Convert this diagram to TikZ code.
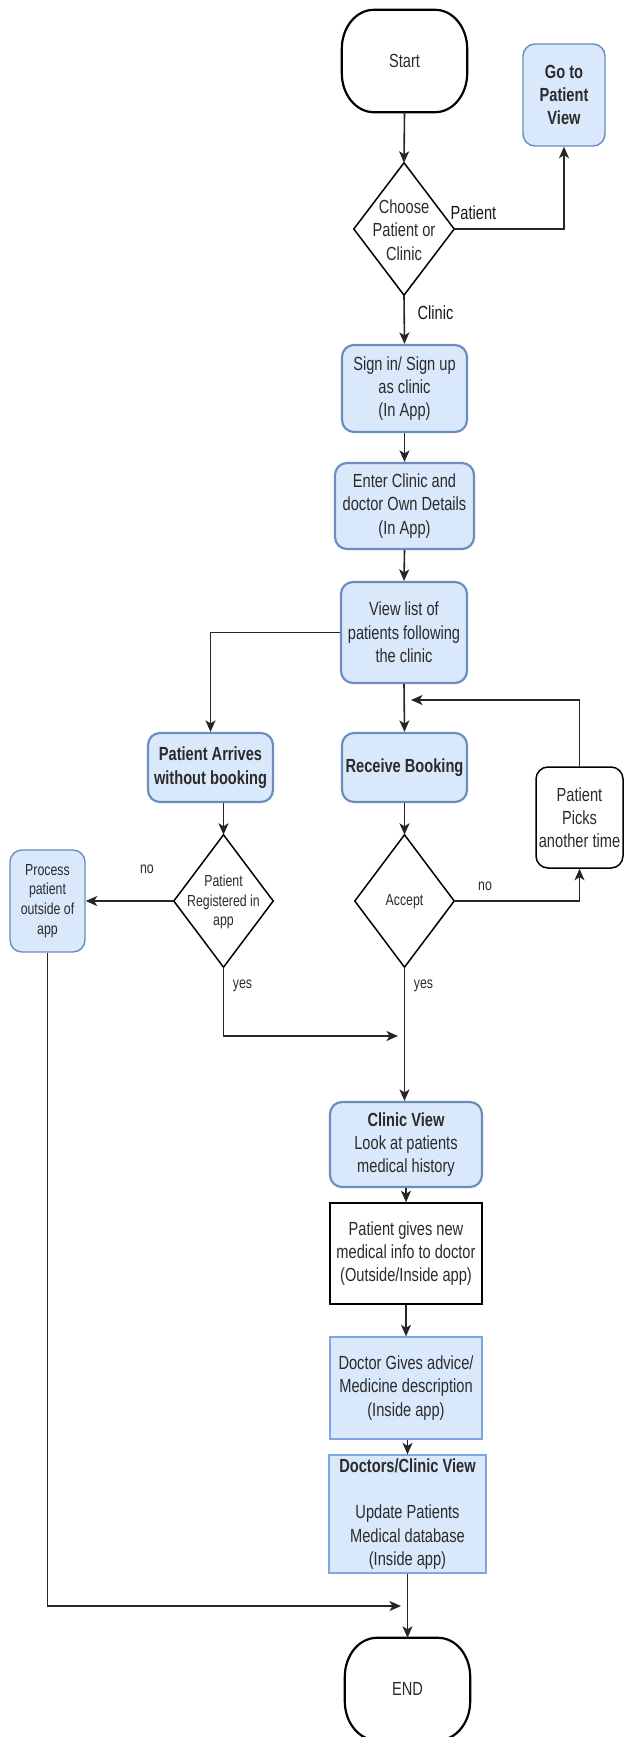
\documentclass[tikz,border=0pt]{standalone}
\usepackage{fontspec}
\setmainfont[FakeStretch=0.77]{Liberation Sans}
\usetikzlibrary{arrows.meta,calc}
\definecolor{fillblue}{HTML}{DAE8FC}
\definecolor{lineblue}{HTML}{6C8EBF}
\definecolor{lineblue2}{HTML}{7EA6E0}
\definecolor{txt}{HTML}{2B2B2B}
\newcommand\fnormal{\fontsize{19}{23.3}\selectfont}
\newcommand\fsmall{\fontsize{16}{19.8}\selectfont}
\tikzset{
  base/.style={inner sep=0pt, align=center, text=txt, font=\fnormal},
  smallbase/.style={base, font=\fsmall},
  bluebox/.style={base, draw=lineblue, fill=fillblue, line width=2.2pt, rounded corners=12pt},
  thinblue/.style={base, draw=lineblue, fill=fillblue, line width=1.4pt, rounded corners=12pt},
  sqblue/.style={base, draw=lineblue2, fill=fillblue, line width=1.3pt},
  whitebox/.style={base, draw=black, fill=white, line width=1.5pt},
  termline/.style={draw=black, line width=2.2pt},
  diamline/.style={draw=black, line width=1.5pt, fill=white},
  conn/.style={draw=black!85, line width=1.6pt, -{Stealth[length=11.5pt,width=10pt,inset=3pt]}},
  edgelabel/.style={inner sep=0pt, text=black!90, font=\fnormal},
  smalllabel/.style={inner sep=0pt, text=txt, font=\fsmall}
}
\newcommand\termpath[1]{%
  \draw[termline] ($(#1.north west)+(32,0)$) -- ($(#1.north east)+(-32,0)$)
    .. controls ($(#1.north east)+(-14.3,0)$) and ($(#1.north east)+(0,17.5)$) .. ($(#1.north east)+(0,39)$)
    -- ($(#1.south east)+(0,-39)$)
    .. controls ($(#1.south east)+(0,-17.5)$) and ($(#1.south east)+(-14.3,0)$) .. ($(#1.south east)+(-32,0)$)
    -- ($(#1.south west)+(32,0)$)
    .. controls ($(#1.south west)+(14.3,0)$) and ($(#1.south west)+(0,-17.5)$) .. ($(#1.south west)+(0,-39)$)
    -- ($(#1.north west)+(0,39)$)
    .. controls ($(#1.north west)+(0,17.5)$) and ($(#1.north west)+(14.3,0)$) .. ($(#1.north west)+(32,0)$)
    -- cycle;}
\newcommand\diapath[1]{\draw[diamline] (#1.north) -- (#1.east) -- (#1.south) -- (#1.west) -- cycle;}
\begin{document}
\begin{tikzpicture}[x=1pt,y=-1pt]
\useasboundingbox (0,0) rectangle (625,1737);

% terminals
\node[base, minimum width=125pt, minimum height=102pt] (start) at (404.5,61) {};
\termpath{start}
\node[base] (starttext) at (start.center) {Start};

\node[base, minimum width=125pt, minimum height=102pt] (endn) at (407.5,1689) {};
\termpath{endn}
\node[base] (endtext) at (endn.center) {END};

% top part
\node[thinblue, minimum width=82pt, minimum height=102pt, font=\fnormal\bfseries] (goto) at (564,95) {Go to\\Patient\\View};

\node[base, minimum width=100pt, minimum height=132pt] (choose) at (404,229) {};
\diapath{choose}
\node[base] (choosetext) at (404,230) {Choose\\Patient or\\Clinic};

\node[bluebox, minimum width=125pt, minimum height=87pt] (signin) at (404.5,388.5) {Sign in/ Sign up\\as clinic\\(In App)};
\node[bluebox, minimum width=139pt, minimum height=86pt] (enter) at (404.5,506) {Enter Clinic and\\doctor Own Details\\(In App)};
\node[bluebox, minimum width=126pt, minimum height=101pt] (viewlist) at (404,632.5) {View list of\\patients following\\the clinic};

\node[bluebox, minimum width=125pt, minimum height=69pt, font=\fnormal\bfseries] (arrives) at (210.5,767.5) {Patient Arrives\\without booking};
\node[bluebox, minimum width=125pt, minimum height=69pt, font=\fnormal\bfseries] (receive) at (404.5,767.5) {Receive Booking};
\node[whitebox, rounded corners=12pt, minimum width=87pt, minimum height=101pt] (picks) at (579.5,817.5) {Patient\\Picks\\another time};

\node[base, minimum width=99pt, minimum height=132pt] (reg) at (223.5,901) {};
\diapath{reg}
\node[smallbase] (regtext) at (223.5,902) {Patient\\Registered in\\app};

\node[base, minimum width=99pt, minimum height=132pt] (accept) at (404.5,901) {};
\diapath{accept}
\node[smallbase] (accepttext) at (404.5,902) {Accept};

\node[thinblue, font=\fsmall, minimum width=75pt, minimum height=102pt] (process) at (47.5,901) {Process\\patient\\outside of\\app};

% lower part
\node[bluebox, minimum width=152pt, minimum height=85pt] (clinicview) at (406,1144.5) {\textbf{Clinic View}\\Look at patients\\medical history};
\node[whitebox, minimum width=152pt, minimum height=101pt] (gives) at (406,1253.5) {Patient gives new\\medical info to doctor\\(Outside/Inside app)};
\node[sqblue, minimum width=152pt, minimum height=102pt] (advice) at (406,1388) {Doctor Gives advice/\\Medicine description\\(Inside app)};
\node[sqblue, minimum width=157pt, minimum height=118pt] (update) at (407.5,1514) {\textbf{Doctors/Clinic View}\\[23.3pt]Update Patients\\Medical database\\(Inside app)};

% connectors
\draw[conn] (start.south) -- (choose.north);
\draw[conn] (choose.east) -| (goto.south);
\draw[conn] (choose.south) -- (signin.north);
\draw[conn] (signin.south) -- (enter.north);
\draw[conn] (enter.south) -- (viewlist.north);
\draw[conn] (viewlist.west) -| (arrives.north);
\draw[conn] (viewlist.south) -- (receive.north);
\coordinate (fb) at (411,700);
\draw[conn] (picks.north) |- (fb);
\draw[conn] (arrives.south -| reg.north) -- (reg.north);
\draw[conn] (receive.south) -- (accept.north);
\draw[conn] (reg.west) -- (process.east);
\draw[conn] (accept.east) -| (picks.south);
\coordinate (yj) at (398,1036);
\draw[conn] (reg.south) |- (yj);
\draw[conn] (accept.south) -- (accept.south |- clinicview.north);
\draw[conn] (clinicview.south) -- (gives.north);
\draw[conn] (gives.south) -- (advice.north);
\draw[conn] (update.north |- advice.south) -- (update.north);
\draw[conn] (update.south) -- (endn.north);
\coordinate (ej) at (401,1606);
\draw[conn] (process.south) |- (ej);

% edge labels
\node[edgelabel] (lpatient) at (473.5,213) {Patient};
\node[edgelabel] (lclinic) at (435.5,313) {Clinic};
\node[smalllabel] (lno1) at (147,869) {no};
\node[smalllabel] (lno2) at (485,886) {no};
\node[smalllabel] (lyes1) at (242.5,986) {yes};
\node[smalllabel] (lyes2) at (423.5,986) {yes};
\end{tikzpicture}
\end{document}
